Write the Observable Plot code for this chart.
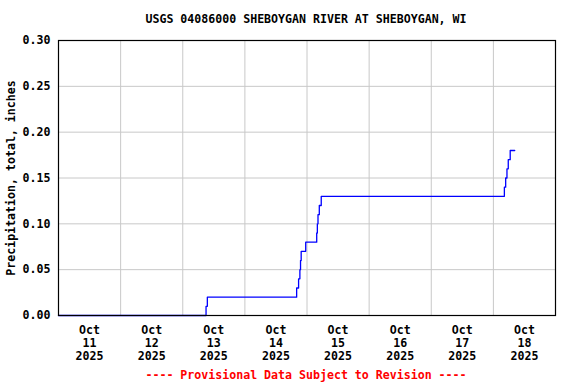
<!DOCTYPE html>
<html><head><meta charset="utf-8">
<script src="https://cdn.jsdelivr.net/npm/d3@7"></script>
<script src="https://cdn.jsdelivr.net/npm/@observablehq/plot@0.6"></script>
<style>
body{margin:0;background:#fff}
#wrap{position:relative;width:576px;height:384px;font-family:"DejaVu Sans Mono",monospace;font-weight:bold;font-size:11.6px;color:#000}
.t{position:absolute;left:0;width:612px;text-align:center;line-height:14px;white-space:pre}
#title{top:12px}
#caption{top:368px;color:#ff0000}
svg text{font-weight:bold}
</style></head>
<body>
<div id="wrap">
  <div id="plot"></div>
  <div class="t" id="title">USGS 04086000 SHEBOYGAN RIVER AT SHEBOYGAN, WI</div>
  <div class="t" id="caption">---- Provisional Data Subject to Revision ----</div>
</div>
<script>
// Cumulative precipitation readings (clock times as plotted)
const times = [
  "2025-10-11T00:00", "2025-10-13T09:00", "2025-10-13T09:30",
  "2025-10-14T20:00", "2025-10-14T20:45", "2025-10-14T21:15", "2025-10-14T21:30", "2025-10-14T21:45",
  "2025-10-14T23:30", "2025-10-15T03:45", "2025-10-15T04:00", "2025-10-15T04:15", "2025-10-15T04:45",
  "2025-10-15T05:30", "2025-10-18T04:15", "2025-10-18T04:45", "2025-10-18T05:15", "2025-10-18T05:45",
  "2025-10-18T06:30", "2025-10-18T08:15"
];
const values = [
  0.00, 0.01, 0.02,
  0.03, 0.04, 0.05, 0.06, 0.07,
  0.08, 0.09, 0.10, 0.11, 0.12,
  0.13, 0.14, 0.15, 0.16, 0.17,
  0.18, 0.18
];
const dayLabels = ["2025-10-11", "2025-10-12", "2025-10-13", "2025-10-14", "2025-10-15", "2025-10-16", "2025-10-17", "2025-10-18"];
const dayBounds = ["2025-10-11", "2025-10-12", "2025-10-13", "2025-10-14", "2025-10-15", "2025-10-16", "2025-10-17", "2025-10-18", "2025-10-19"];
const yTicks = [0, 0.05, 0.10, 0.15, 0.20, 0.25, 0.30];

const data = times.map((t, i) => ({date: new Date(t + ":00Z"), value: values[i]}));
const noons = dayLabels.map(d => new Date(d + "T12:00:00Z"));
const midnights = dayBounds.map(d => new Date(d + "T00:00:00Z"));
const fmt = d3.utcFormat("%b\n%d\n%Y");

const chart = Plot.plot({
  width: 576,
  height: 384,
  marginTop: 40,
  marginBottom: 69,
  marginLeft: 58,
  marginRight: 21,
  style: {fontFamily: "'DejaVu Sans Mono', monospace", fontSize: "11.6px", color: "#000", background: "#fff"},
  x: {type: "utc", domain: [midnights[0], midnights[midnights.length - 1]]},
  y: {domain: [0, 0.30]},
  marks: [
    Plot.gridY(yTicks, {stroke: "#c8c8c8", strokeOpacity: 1}),
    Plot.gridX(midnights, {stroke: "#c8c8c8", strokeOpacity: 1}),
    Plot.line(data, {x: "date", y: "value", stroke: "#0000ff", strokeWidth: 1.3, curve: "step-after"}),
    Plot.frame({stroke: "#000", strokeWidth: 1.2}),
    Plot.axisY(yTicks, {tickSize: 0, tickPadding: 8, tickFormat: d3.format(".2f"),
      label: "Precipitation, total, inches", labelAnchor: "center", labelArrow: "none", labelOffset: 52}),
    Plot.axisX(noons, {tickSize: 0, tickPadding: 9, tickFormat: d => fmt(d), lineHeight: 1.13, label: null})
  ]
});
document.getElementById("plot").appendChild(chart);
</script>
</body></html>
